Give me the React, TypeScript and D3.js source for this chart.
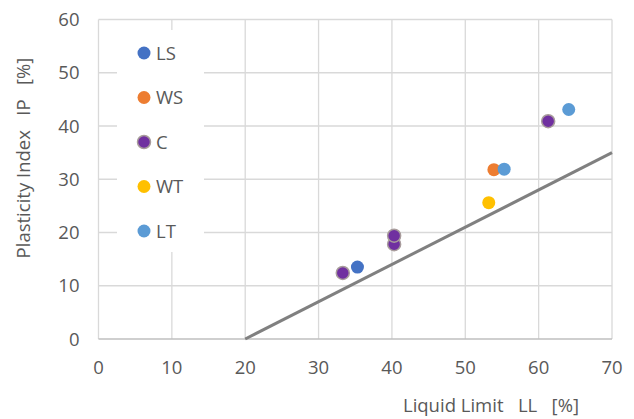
import React from 'react';
import * as d3 from 'd3';

const seriesNames = ['LS', 'WS', 'C', 'WT', 'LT'];
const seriesColors = ['#4472C4', '#ED7D31', '#7030A0', '#FFC000', '#5B9BD5'];
const seriesStroke = ['none', 'none', '#A89C9C', 'none', 'none'];

// [LL, IP] per series
const lsPoints = [[35.3, 13.5]];
const wsPoints = [[53.9, 31.8]];
const cPoints = [[33.3, 12.4], [40.3, 17.8], [40.3, 19.4], [61.3, 40.9]];
const wtPoints = [[53.2, 25.6]];
const ltPoints = [[55.3, 31.9], [64.1, 43.1]];

const aLine = [[20, 0], [70, 35]];

const xTicks = [0, 10, 20, 30, 40, 50, 60, 70];
const yTicks = [0, 10, 20, 30, 40, 50, 60];

const W = 634;
const H = 419;
const margin = { top: 19.5, right: 22, bottom: 80, left: 98.5 };
const font = "'Open Sans', 'Noto Sans', sans-serif";
const fs = 18.5;
const textColor = '#595959';

export default function App() {
  const x = d3.scaleLinear().domain([0, 70]).range([margin.left, W - margin.right]);
  const y = d3.scaleLinear().domain([0, 60]).range([H - margin.bottom, margin.top]);
  const all = [lsPoints, wsPoints, cPoints, wtPoints, ltPoints];
  const line = d3.line<number[]>().x(d => x(d[0])).y(d => y(d[1]));

  return (
    <svg width={W} height={H} style={{ position: 'absolute', left: 0, top: 0, background: '#fff' }}>
      {/* grid */}
      {yTicks.slice(1).map(t => (
        <line key={'gy' + t} x1={x(0)} x2={x(70)} y1={y(t)} y2={y(t)} stroke="#D9D9D9" strokeWidth={1.3} />
      ))}
      {xTicks.slice(1).map(t => (
        <line key={'gx' + t} x1={x(t)} x2={x(t)} y1={y(0)} y2={y(60)} stroke="#D9D9D9" strokeWidth={1.3} />
      ))}
      <line x1={x(0)} x2={x(0)} y1={y(0)} y2={y(60)} stroke="#D9D9D9" strokeWidth={1.3} />
      <line x1={x(0)} x2={x(70)} y1={y(0)} y2={y(0)} stroke="#BFBFBF" strokeWidth={1.3} />

      {/* ticks */}
      {yTicks.map(t => (
        <text key={'ty' + t} x={x(0) - 19} y={y(t)} dy="0.36em" textAnchor="end" fontFamily={font} fontSize={fs} fill={textColor}>{t}</text>
      ))}
      {xTicks.map(t => (
        <text key={'tx' + t} x={x(t)} y={y(0) + 28} dy="0.36em" textAnchor="middle" fontFamily={font} fontSize={fs} fill={textColor}>{t}</text>
      ))}

      {/* axis titles */}
      <text x={491} y={412} textAnchor="middle" fontFamily={font} fontSize={fs} fill={textColor} style={{ whiteSpace: 'pre' }}>
        {'Liquid Limit   LL   [%]'}
      </text>
      <text transform={`translate(30,158) rotate(-90)`} textAnchor="middle" fontFamily={font} fontSize={fs} fill={textColor} style={{ whiteSpace: 'pre' }}>
        {'Plasticity Index   IP   [%]'}
      </text>

      {/* legend */}
      <rect x={117} y={30} width={87} height={222} fill="#fff" />
      {seriesNames.map((n, i) => (
        <g key={n}>
          <circle cx={144} cy={53 + i * 44.5} r={6.5} fill={seriesColors[i]} stroke={seriesStroke[i]} strokeWidth={1.5} />
          <text x={156} y={53 + i * 44.5} dy="0.36em" fontFamily={font} fontSize={fs} fill={textColor}>{n}</text>
        </g>
      ))}

      {/* A-line */}
      <path d={line(aLine) || ''} fill="none" stroke="#808080" strokeWidth={3} />

      {/* points */}
      {all.map((pts, i) =>
        pts.map((p, j) => (
          <circle key={i + '-' + j} cx={x(p[0])} cy={y(p[1])} r={6.5} fill={seriesColors[i]} stroke={seriesStroke[i]} strokeWidth={1.5} />
        ))
      )}
    </svg>
  );
}
